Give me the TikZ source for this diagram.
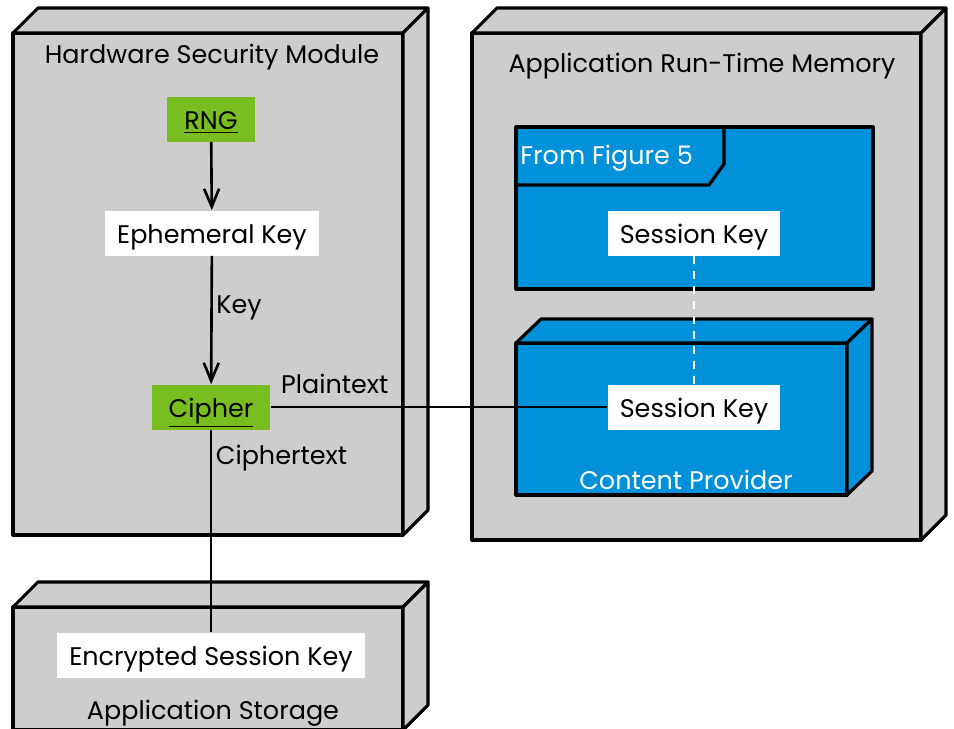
\documentclass[tikz,border=0pt]{standalone}
\usepackage{fontspec}
\setmainfont{Poppins}
\usepackage{tikz}
\usetikzlibrary{arrows.meta, positioning}
\definecolor{boxgray}{RGB}{205,205,205}
\definecolor{chipgreen}{RGB}{120,190,32}
\definecolor{memblue}{RGB}{0,145,218}

\begin{document}
\begin{tikzpicture}[x=0.02cm, y=-0.02cm,
    font=\fontsize{14.5}{17}\selectfont,
    every node/.style={text height=12pt, text depth=0pt},
    devbox/.style={draw=black, line width=1.8pt, line join=round, fill=boxgray},
    keybox/.style={fill=white, minimum height=0.9cm, inner xsep=0.24cm},
    opbox/.style={fill=chipgreen, minimum height=0.9cm, inner xsep=0.34cm},
    flow/.style={line width=1.5pt},
    tip/.style={-{Straight Barb[length=0.36cm, width=0.3cm]}},
    lbl/.style={inner sep=2pt}]
    \useasboundingbox (0,0) rectangle (954,728);

    % Deployment boxes
    \foreach \xa/\ya/\xb/\yb in {13/33/403/535, 472/33/921/540, 13/607/403/730} {
        \draw[devbox] (\xa,\ya) rectangle (\xb,\yb);
        \draw[devbox] (\xa,\ya) -- ++(25,-25) -- ++({\xb-\xa},0) -- (\xb,\ya) -- cycle;
        \draw[devbox] (\xb,\ya) -- ++(25,-25) -- ++(0,{\yb-\ya}) -- (\xb,\yb) -- cycle;
    }
    \node (hsm) at (212,53) {Hardware Security Module};
    \node (mem) at (702,62) {Application Run-Time Memory};
    \node (store) at (213,709) {Application Storage};

    % Frame from figure 5
    \draw[devbox, fill=memblue] (516,127) rectangle (873,289);
    \draw[line width=1.8pt, line join=round] (516,185) -- (709,185) -- (724,164) -- (724,127);
    \node[anchor=west, text=white, inner sep=0pt] (fig) at (520,154) {From Figure 5};

    % Content provider
    \draw[devbox, fill=memblue] (516,343) rectangle (847,495);
    \draw[devbox, fill=memblue] (516,343) -- ++(25,-24) -- (872,319) -- (847,343) -- cycle;
    \draw[devbox, fill=memblue] (847,343) -- (872,319) -- (872,471) -- (847,495) -- cycle;
    \node[text=white] (prov) at (686,479) {Content Provider};

    % Keys and operations
    \node[opbox] (rng) at (211,119) {\underline{RNG}};
    \node[keybox] (ephkey) at (212,233) {Ephemeral Key};
    \node[opbox] (cipher) at (211,407) {\underline{Cipher}};
    \node[keybox] (sesskeya) at (694,233) {Session Key};
    \node[keybox] (sesskeyb) at (694,407) {Session Key};
    \node[keybox] (enckey) at (211,655) {Encrypted Session Key};

    % Connectors
    \draw[flow, tip] (rng) -- (ephkey);
    \draw[flow, tip] (ephkey) -- node[lbl, pos=0.37, right] {Key} (cipher);
    \draw[flow] (cipher) -- node[lbl, pos=0.19, above=5pt] {Plaintext} (sesskeyb);
    \draw[flow] (cipher) -- node[lbl, pos=0.12, right] {Ciphertext} (enckey);
    \draw[flow, white, dash pattern=on 0.16cm off 0.14cm] (sesskeya) -- (sesskeyb);
\end{tikzpicture}
\end{document}
